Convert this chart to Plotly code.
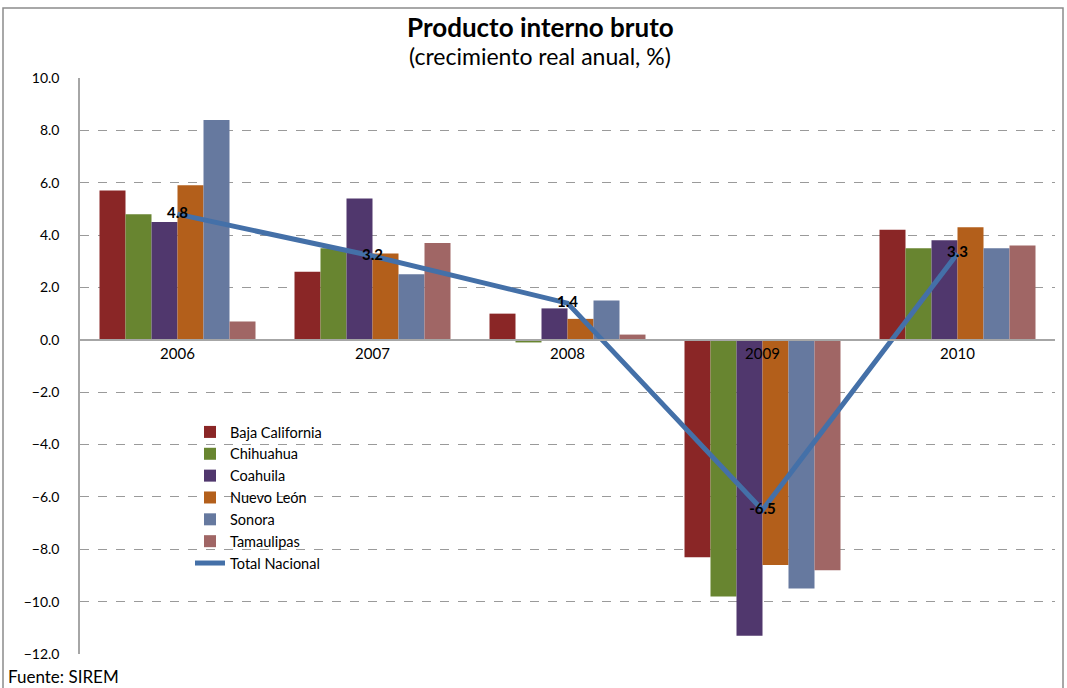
import plotly.graph_objects as go

years = ["2006", "2007", "2008", "2009", "2010"]
baja_california = [5.7, 2.6, 1.0, -8.3, 4.2]
chihuahua = [4.8, 3.5, -0.1, -9.8, 3.5]
coahuila = [4.5, 5.4, 1.2, -11.3, 3.8]
nuevo_leon = [5.9, 3.3, 0.8, -8.6, 4.3]
sonora = [8.4, 2.5, 1.5, -9.5, 3.5]
tamaulipas = [0.7, 3.7, 0.2, -8.8, 3.6]
total_nacional = [4.8, 3.2, 1.4, -6.5, 3.3]

series = [
    ("Baja California", baja_california, "#8A2626"),
    ("Chihuahua", chihuahua, "#688530"),
    ("Coahuila", coahuila, "#50376D"),
    ("Nuevo León", nuevo_leon, "#B35F1B"),
    ("Sonora", sonora, "#66799F"),
    ("Tamaulipas", tamaulipas, "#A06665"),
]

FONT = "Lato, Carlito, Calibri, sans-serif"

fig = go.Figure()
for name, vals, col in series:
    fig.add_trace(go.Bar(x=years, y=vals, name=name, marker=dict(color=col, line=dict(width=0))))

fig.add_trace(go.Scatter(
    x=years, y=total_nacional, name="Total Nacional", mode="lines+text",
    line=dict(color="#4470A8", width=5),
    text=[f"{v:.1f}" for v in total_nacional], textposition="middle center",
    textfont=dict(family=FONT, size=15, color="black", weight="bold"),
))

ymin, ymax = -12, 10
dom = (0.0, 1.0)
zero_pos = dom[0] + (dom[1] - dom[0]) * (0 - ymin) / (ymax - ymin)

L, T, PW, PH = 80, 78, 975, 576


def px(xp):
    return (xp - L) / PW


def py(yp):
    return (T + PH - yp) / PH


fig.update_layout(
    width=1067, height=688,
    margin=dict(l=L, r=1067 - L - PW, t=T, b=688 - T - PH),
    paper_bgcolor="white", plot_bgcolor="white",
    barmode="group", bargap=0.2, bargroupgap=0,
    font=dict(family=FONT, size=14, color="black"),
    showlegend=True,
    legend=dict(x=px(190), y=py(416), xanchor="left", yanchor="top",
                bgcolor="rgba(0,0,0,0)", font=dict(size=14.5, family=FONT),
                tracegroupgap=0),
    xaxis=dict(anchor="free", position=zero_pos, showline=True, linecolor="#A6A6A6",
               linewidth=1.5, ticks="", showgrid=False,
               tickfont=dict(size=15, family=FONT)),
    yaxis=dict(range=[ymin, ymax], domain=list(dom), dtick=2, tickformat=".1f",
               showgrid=True, gridcolor="#9A9A9A", griddash="dash", gridwidth=1,
               zeroline=False, showline=True, linecolor="#A6A6A6", linewidth=1.5,
               ticks="", ticklabelstandoff=16, tickfont=dict(size=14, family=FONT)),
    annotations=[
        dict(text="<b>Producto interno bruto</b>", xref="paper", yref="paper",
             x=px(540), y=py(27), xanchor="center", yanchor="middle",
             showarrow=False, font=dict(size=26, family=FONT)),
        dict(text="(crecimiento real anual, %)", xref="paper", yref="paper",
             x=px(540), y=py(56), xanchor="center", yanchor="middle",
             showarrow=False, font=dict(size=23, family=FONT)),
        dict(text="Fuente: SIREM", xref="paper", yref="paper",
             x=px(6), y=py(676), xanchor="left", yanchor="middle",
             showarrow=False, font=dict(size=17, family=FONT)),
    ],
    shapes=[
        dict(type="rect", xref="paper", yref="paper",
             x0=px(3), x1=px(1063), y0=py(700), y1=py(8),
             line=dict(color="#8C8C8C", width=1.5), fillcolor="rgba(0,0,0,0)", layer="below"),
    ],
)

fig.write_html(
    "out.html",
    config={"displayModeBar": False},
    post_script="document.body.style.margin='0';document.body.style.overflow='hidden';",
)
